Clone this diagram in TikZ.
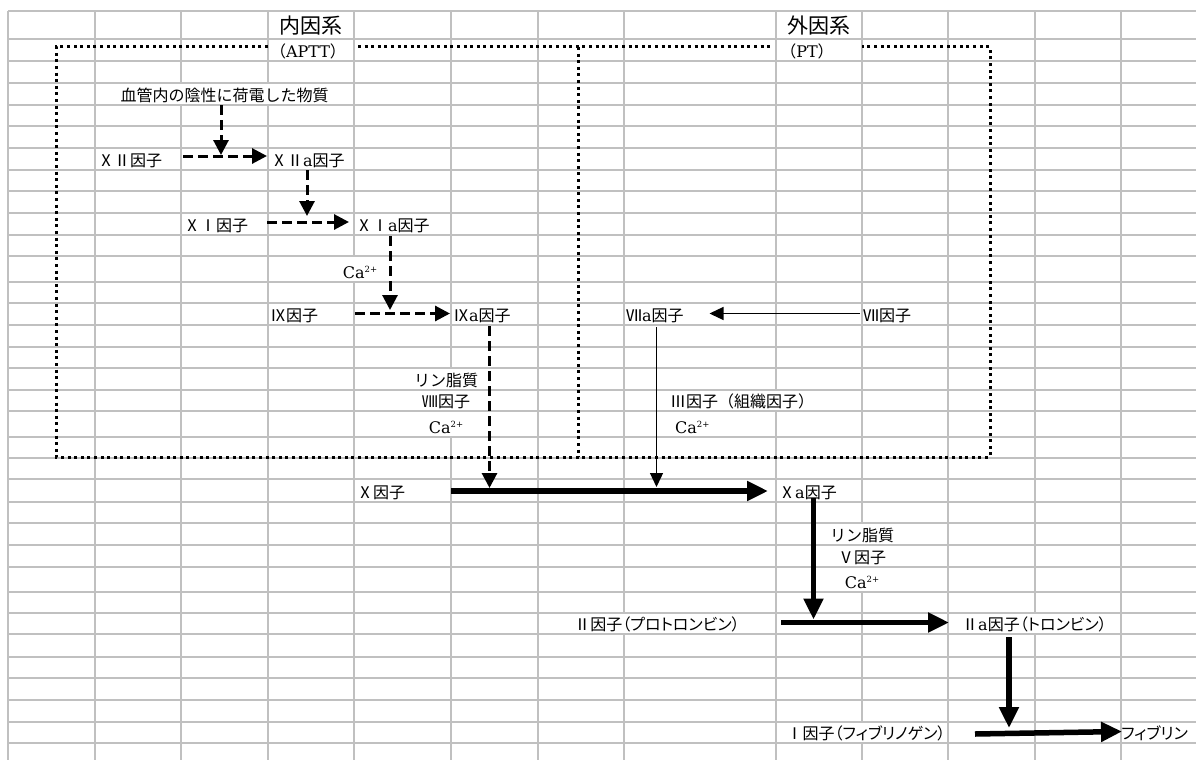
\documentclass[tikz,border=0pt]{standalone}
\usepackage{fontspec}
\setmainfont{DejaVu Serif}
\newfontfamily\jp{Noto Sans CJK JP}
\newfontfamily\jpp[RawFeature=+palt]{Noto Sans CJK JP}
\usetikzlibrary{arrows.meta}
\definecolor{gridgray}{HTML}{C0C0C0}
\newcommand\la[1]{{\rmfamily #1}}
\newcommand\caa{{\rmfamily Ca\raisebox{6.5pt}{\fontsize{8.5}{8.5}\selectfont 2+}}}
\tikzset{
  gline/.style={draw=gridgray, line width=1.2pt},
  dotbox/.style={draw=black, line width=3pt, dash pattern=on 3pt off 3.6pt},
  dasharr/.style={draw=black, line width=3pt, dash pattern=on 10pt off 5pt, -{Triangle[length=15pt,width=15pt]}},
  thickarr/.style={draw=black, line width=5.5pt, -{Triangle[length=21pt,width=19pt]}},
  thinarr/.style={draw=black, line width=1.3pt, -{Triangle[length=14pt,width=13pt]}},
  lbl/.style={inner sep=0pt, font=\jp\fontsize{16}{19}\selectfont, text=black},
  lblw/.style={lbl, anchor=base west},
  lblc/.style={lbl, anchor=base},
  ttl/.style={inner sep=0pt, anchor=base, font=\jp\fontsize{21}{24}\selectfont, text=black},
}
\begin{document}
\begin{tikzpicture}[x=1pt, y=-1pt]
\useasboundingbox (0,0) rectangle (1196,760);
% ---- spreadsheet grid ----
\foreach \y in {11,39,61,83,105,126,148,170,191,213,235,256,282,303,325,347,368,390,411,437,458,479,502,523,545,567,592,613,634,657,678,700,722,743}
  \draw[gline] (8,\y) -- (1196,\y);
\foreach \x/\a/\b in {8/11/760, 95/11/760, 181/11/83, 181/105/760, 268/11/83, 268/105/760,
  354/11/256, 354/282/760, 451/11/368, 451/437/760, 538/11/760, 624/11/613, 624/634/760,
  776/11/390, 776/411/760, 862/11/523, 862/592/722, 862/743/760, 948/11/760,
  1035/11/613, 1035/634/760, 1121/11/760}
  \draw[gline] (\x,\a) -- (\x,\b);
% ---- dotted frames ----
\draw[dotbox] (268,47) -- (56,47) -- (56,457) -- (990,457) -- (990,47) -- (862,47);
\draw[dotbox] (358,47) -- (772,47);
\draw[dotbox] (578,47) -- (578,457);
% ---- labels ----
\node[ttl] (tin) at (311,34) {内因系};
\node[ttl] (tout) at (819,34) {外因系};
\node[lblc] (aptt) at (308,57.5) {（\la{APTT}）};
\node[lblc] (pt) at (807,57.5) {（\la{PT}）};
\node[lblc] (src) at (224.5,101.5) {血管内の陰性に荷電した物質};
\node[lblw] (xii) at (98,166.5) {ⅩⅡ因子};
\node[lblw] (xiia) at (271,166.5) {ⅩⅡ\la{a}因子};
\node[lblw] (xi) at (184,231.5) {ⅩⅠ因子};
\node[lblw] (xia) at (356,231.5) {ⅩⅠ\la{a}因子};
\node[lblc] (ca1) at (360,278.5) {\caa};
\node[lblw] (ix) at (270,321.5) {Ⅸ因子};
\node[lblw] (ixa) at (453,321.5) {Ⅸ\la{a}因子};
\node[lblw] (viia) at (626,321.5) {Ⅶ\la{a}因子};
\node[lblw] (vii) at (863,321.5) {Ⅶ因子};
\node[lblc] (lip1) at (446,386.5) {リン脂質};
\node[lblc] (viii) at (446,407.5) {Ⅷ因子};
\node[lblc] (ca2) at (446,433.5) {\caa};
\node[lblw] (iii) at (670,407.5) {Ⅲ因子（組織因子）};
\node[lblw] (ca3) at (675,433.5) {\caa};
\node[lblw] (x) at (357,498.5) {Ⅹ因子};
\node[lblw] (xa) at (779,498.5) {Ⅹ\la{a}因子};
\node[lblc] (lip2) at (862,541.5) {リン脂質};
\node[lblc] (v) at (862,563.5) {Ⅴ因子};
\node[lblc] (ca4) at (862,588.5) {\caa};
\node[lblc] (ii) at (657,630.5) {\jpp Ⅱ因子（プロトロンビン）};
\node[lblc] (iia) at (1034.5,630.5) {\jpp Ⅱ\la{a}因子（トロンビン）};
\node[lblc] (i) at (866,739.5) {\jpp Ⅰ因子（フィブリノゲン）};
\node[lblw] (fib) at (1121,739.5) {\jpp フィブリン};
% ---- connector end points ----
\coordinate (aS) at (221,105);   \coordinate (aE) at (221,155);
\coordinate (bS) at (183,156);   \coordinate (bE) at (267,156);
\coordinate (cS) at (307,170);   \coordinate (cE) at (307,216);
\coordinate (dS) at (267,222);   \coordinate (dE) at (349,222);
\coordinate (eS) at (390,236);   \coordinate (eE) at (390,310);
\coordinate (fS) at (355,313.5); \coordinate (fE) at (450,313.5);
\coordinate (gS) at (489.5,326); \coordinate (gE) at (489.5,488);
\coordinate (hS) at (451,491);   \coordinate (hE) at (768,491);
\coordinate (iS) at (656.5,327); \coordinate (iE) at (656.5,487);
\coordinate (jS) at (860,313.5); \coordinate (jE) at (709.5,313.5);
\coordinate (kS) at (813.5,498); \coordinate (kE) at (813.5,619.5);
\coordinate (lS) at (781,622.5); \coordinate (lE) at (949,622.5);
\coordinate (mS) at (1009,637);  \coordinate (mE) at (1009,728);
\coordinate (nS) at (975,734);   \coordinate (nE) at (1122,731.5);
% ---- connectors ----
\draw[dasharr] (aS) -- (aE);
\draw[dasharr] (bS) -- (bE);
\draw[dasharr] (cS) -- (cE);
\draw[dasharr] (dS) -- (dE);
\draw[dasharr] (eS) -- (eE);
\draw[dasharr] (fS) -- (fE);
\draw[dasharr] (gS) -- (gE);
\draw[thinarr] (jS) -- (jE);
\draw[thinarr] (iS) -- (iE);
\draw[thickarr] (hS) -- (hE);
\draw[thickarr] (kS) -- (kE);
\draw[thickarr] (lS) -- (lE);
\draw[thickarr] (mS) -- (mE);
\draw[thickarr] (nS) -- (nE);
\end{tikzpicture}
\end{document}
